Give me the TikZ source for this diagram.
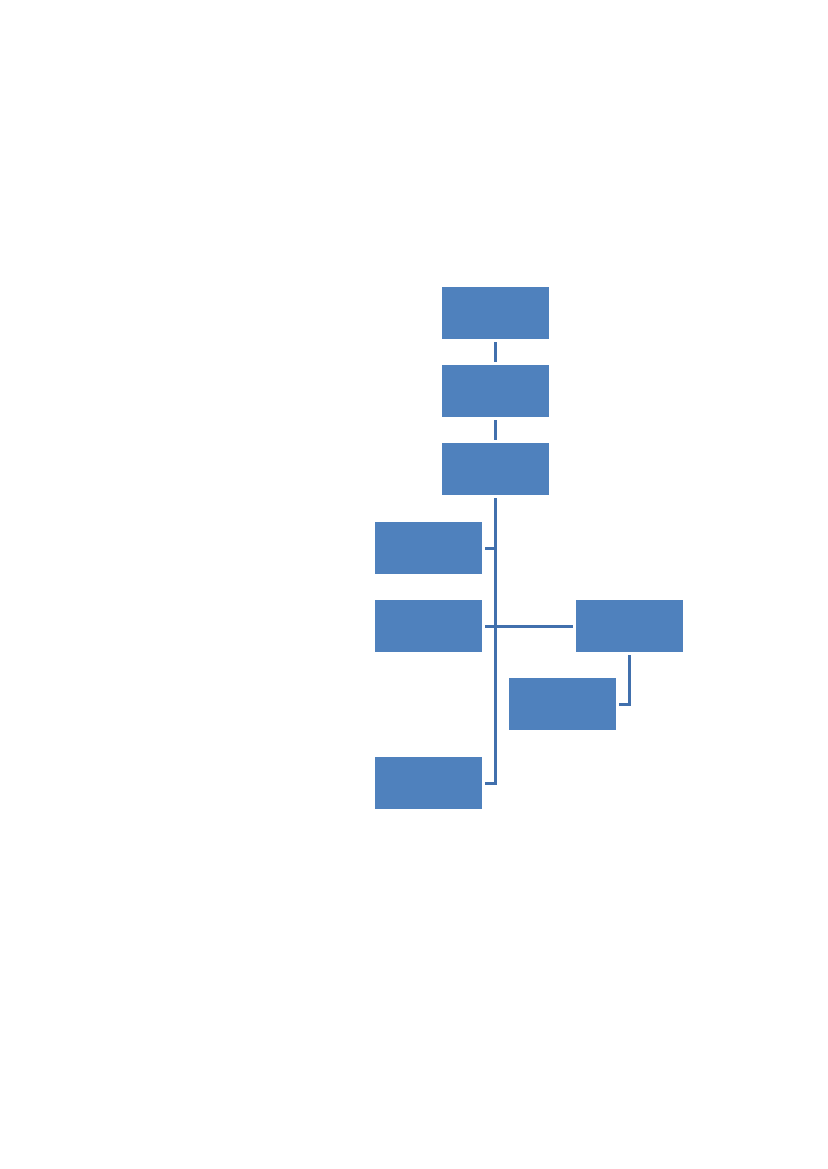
\documentclass[tikz,border=0pt]{standalone}
\begin{document}
\begin{tikzpicture}[x=1pt,y=-1pt,
  orgbox/.style={rectangle,fill=boxblue,draw=none,minimum width=107pt,minimum height=52pt,inner sep=0pt,outer sep=0pt},
  conn/.style={draw=lineblue,line width=3pt,shorten <=3pt,shorten >=3pt}]
\definecolor{boxblue}{HTML}{4F81BD}
\definecolor{lineblue}{HTML}{4170AD}
\useasboundingbox (0,0) rectangle (827,1169);
\fill[white] (0,0) rectangle (827,1169);
\node[orgbox] (b1) at (495.5,313) {};
\node[orgbox] (b2) at (495.5,391) {};
\node[orgbox] (b3) at (495.5,469) {};
\node[orgbox] (b4) at (428.5,548) {};
\node[orgbox] (b5) at (428.5,626) {};
\node[orgbox] (b6) at (629,626) {};
\node[orgbox] (b7) at (562.5,704) {};
\node[orgbox] (b8) at (428.5,783) {};
\draw[conn] (b1.south) -- (b2.north);
\draw[conn] (b2.south) -- (b3.north);
\draw[conn] (b3.south) |- (b4.east);
\draw[conn] (b3.south) |- (b8.east);
\draw[conn] (b5.east) -- (b6.west);
\draw[conn] (b6.south) |- (b7.east);
\end{tikzpicture}
\end{document}
